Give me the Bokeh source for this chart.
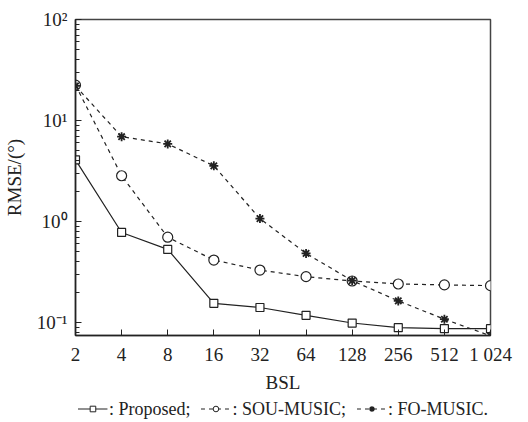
from bokeh.plotting import figure
from bokeh.layouts import column
from bokeh.models import (Range1d, FixedTicker, BasicTickFormatter, Legend, LegendItem)
from bokeh.embed import file_html
from bokeh.resources import INLINE

bsl = [2, 4, 8, 16, 32, 64, 128, 256, 512, 1024]
x_tick_labels = {1024: "1 024"}
proposed = [4.08, 0.78, 0.53, 0.155, 0.141, 0.118, 0.099, 0.089, 0.087, 0.087]
sou_music = [22.4, 2.84, 0.70, 0.416, 0.331, 0.285, 0.258, 0.241, 0.236, 0.232]
fo_music = [22.0, 6.92, 5.87, 3.56, 1.07, 0.484, 0.26, 0.164, 0.108, 0.074]
series_labels = [": Proposed;", ": SOU-MUSIC;", ": FO-MUSIC."]
y_ticks = [0.1, 1, 10, 100]
y_tick_labels = {0.1: "10\u207b\u00b9", 1: "10\u2070", 10: "10\u00b9", 100: "10\u00b2"}
y_minor = [m * 10 ** e for e in (-2, -1, 0, 1) for m in range(2, 10)]

FONT = "Liberation Serif"
INK = "#222222"

p = figure(width=528, height=395, x_axis_type="log", y_axis_type="log",
           output_backend="svg", toolbar_location=None,
           x_range=Range1d(2, 1024), y_range=Range1d(0.0745, 100),
           min_border_left=74, min_border_right=38, min_border_top=19,
           min_border_bottom=59)
p.background_fill_color = "white"
p.border_fill_color = "white"
p.grid.visible = False
p.outline_line_color = "#444444"
p.outline_line_width = 1.5

p.xaxis.ticker = FixedTicker(ticks=bsl, minor_ticks=[])
p.xaxis.formatter = BasicTickFormatter(use_scientific=False)
p.xaxis.major_label_overrides = x_tick_labels
p.yaxis.ticker = FixedTicker(ticks=y_ticks, minor_ticks=y_minor)
p.yaxis.major_label_overrides = y_tick_labels

for ax in (p.xaxis[0], p.yaxis[0]):
    ax.axis_line_color = INK
    ax.axis_line_width = 1.5
    ax.major_tick_line_color = INK
    ax.minor_tick_line_color = INK
    ax.major_tick_in = 6
    ax.major_tick_out = 0
    ax.minor_tick_in = 4
    ax.minor_tick_out = 0
    ax.major_label_text_font = FONT
    ax.major_label_text_font_size = "19px"
    ax.major_label_text_color = INK
    ax.axis_label_text_font = FONT
    ax.axis_label_text_font_size = "19px"
    ax.axis_label_text_font_style = "normal"
    ax.axis_label_text_color = INK

p.xaxis.axis_label = "BSL"
p.yaxis.axis_label = "RMSE/(\u00b0)"
p.xaxis.major_label_standoff = 8
p.yaxis.major_label_standoff = 8
p.xaxis.axis_label_standoff = 4
p.yaxis.axis_label_standoff = 9

styles = [
    dict(dash="solid", marker="square", size=8, lw=1.2, fill="white"),
    dict(dash="4 4", marker="circle", size=10, lw=1.2, fill="white"),
    dict(dash="4 4", marker="asterisk", size=9, lw=1.8, fill=None),
]
all_series = [proposed, sou_music, fo_music]
for ys, st in zip(all_series, styles):
    p.line(bsl, ys, line_color=INK, line_width=1.2, line_dash=st["dash"])
    p.scatter(bsl, ys, marker=st["marker"], size=st["size"], line_color=INK,
              fill_color=st["fill"], line_width=st["lw"])

# legend strip below the chart; its renderers carry the same data but lie
# outside the strip's view, so only the legend samples show
q = figure(width=528, height=27, output_backend="svg", toolbar_location=None,
           x_range=Range1d(-20, -10), y_range=Range1d(-20, -10),
           x_axis_location=None, y_axis_location=None,
           min_border_left=0, min_border_right=0, min_border_top=0,
           min_border_bottom=0)
q.outline_line_color = None
q.grid.visible = False
q.background_fill_color = "white"
q.border_fill_color = "white"
items = []
for lab, ys, st in zip(series_labels, all_series, styles):
    lr = q.line(bsl, ys, line_color=INK, line_width=1.2, line_dash=st["dash"])
    mr = q.scatter(bsl, ys, marker=st["marker"], size=st["size"] - 2, line_color=INK,
                   fill_color=st["fill"], line_width=st["lw"] - 0.2)
    items.append(LegendItem(label=lab, renderers=[lr, mr]))
legend = Legend(items=items, orientation="horizontal", location="center")
legend.label_text_font = FONT
legend.label_text_font_size = "18px"
legend.label_text_color = INK
legend.glyph_width = 30
legend.glyph_height = 14
legend.label_standoff = 2
legend.spacing = 10
legend.padding = 0
legend.margin = 0
legend.border_line_color = None
legend.background_fill_alpha = 0
q.add_layout(legend, "center")

layout = column(p, q, spacing=0)
open("out.html", "w").write(file_html(layout, INLINE))
